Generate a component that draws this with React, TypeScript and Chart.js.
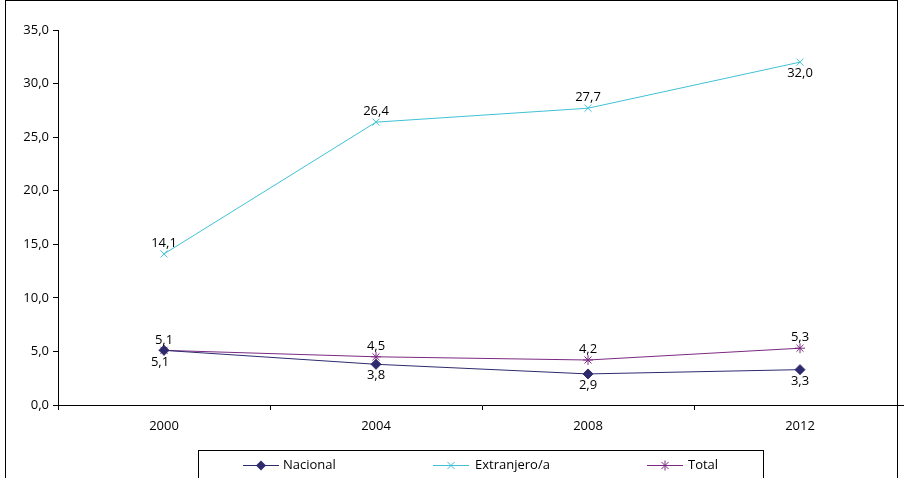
import { useEffect, useRef } from "react"
import { Chart, registerables } from "chart.js"

Chart.register(...registerables)

const years = ["2000", "2004", "2008", "2012"]
const nacional = [5.1, 3.8, 2.9, 3.3]
const extranjero = [14.1, 26.4, 27.7, 32.0]
const total = [5.1, 4.5, 4.2, 5.3]
const seriesNames = ["Nacional", "Extranjero/a", "Total"]
const colors = ["#2e2a6e", "#3fc1d6", "#7b2a82"]
const markers = ["rectRot", "crossRot", "star"]
// label position per point: 1 above, -1 below
const labelPos = [
  [-1, -1, -1, -1],
  [1, 1, 1, -1],
  [1, 1, 1, 1]
]

const fmt = (v: number) => v.toFixed(1).replace(".", ",")
const FONT = "13px 'Open Sans', sans-serif"

const App = () => {
  const chartRef = useRef<HTMLCanvasElement>(null)

  useEffect(() => {
    document.body.style.margin = "0"
    if (!chartRef.current) return
    const ctx = chartRef.current.getContext("2d")
    if (!ctx) return

    const extras = {
      id: "extras",
      afterDraw(chart: any) {
        const c = chart.ctx
        c.save()
        c.strokeStyle = "#000"
        c.lineWidth = 1
        c.strokeRect(5.5, 0.5, 892, 520)
        // point labels
        c.font = FONT
        c.fillStyle = "#000"
        c.textAlign = "center"
        chart.data.datasets.forEach((ds: any, i: number) => {
          const meta = chart.getDatasetMeta(i)
          meta.data.forEach((pt: any, j: number) => {
            const up = labelPos[i][j] > 0
            c.textBaseline = up ? "bottom" : "top"
            const dx = i === 0 && j === 0 ? -4 : 0
            c.fillText(fmt(ds.data[j]), pt.x + dx, up ? pt.y - 4 : pt.y + 5)
          })
        })
        // legend
        c.strokeRect(198.5, 450.5, 565, 40)
        const items = [
          [243, 283],
          [433, 475],
          [647, 688]
        ]
        items.forEach(([lx, tx], i) => {
          const y = 465.5
          c.strokeStyle = colors[i]
          c.lineWidth = 1
          c.beginPath()
          c.moveTo(lx, y)
          c.lineTo(lx + 36, y)
          c.stroke()
          drawMarker(c, markers[i], lx + 18, y, colors[i])
          c.fillStyle = "#000"
          c.textAlign = "left"
          c.textBaseline = "middle"
          c.fillText(seriesNames[i], tx, y)
        })
        c.restore()
      }
    }

    const chart = new Chart(ctx, {
      type: "line",
      data: {
        labels: years,
        datasets: [nacional, extranjero, total].map((d, i) => ({
          label: seriesNames[i],
          data: d,
          borderColor: colors[i],
          backgroundColor: colors[i],
          borderWidth: 1,
          pointStyle: markers[i] as any,
          pointRadius: 5,
          pointBorderWidth: 1,
          tension: 0
        }))
      },
      options: {
        animation: false,
        responsive: false,
        layout: { padding: { top: 30, right: 14, left: 0, bottom: 0 } },
        plugins: { legend: { display: false }, tooltip: { enabled: false } },
        scales: {
          x: {
            offset: true,
            grid: { drawOnChartArea: false, tickLength: 5, color: "#000", offset: true },
            border: { color: "#000" },
            ticks: { color: "#000", font: { family: "'Open Sans', sans-serif", size: 13 }, padding: 8 },
            afterFit: (s: any) => {
              s.height = 73
            }
          },
          y: {
            min: 0,
            max: 35,
            grid: { drawOnChartArea: false, tickLength: 5, color: "#000" },
            border: { color: "#000" },
            ticks: {
              stepSize: 5,
              color: "#000",
              font: { family: "'Open Sans', sans-serif", size: 13 },
              padding: 4,
              callback: (v: any) => fmt(Number(v))
            },
            afterFit: (s: any) => {
              s.width = 58
            }
          }
        }
      },
      plugins: [extras]
    })

    return () => {
      chart.destroy()
    }
  }, [])

  return (
    <div style={{ width: 904, height: 478, overflow: "hidden", background: "#fff" }}>
      <canvas ref={chartRef} width="920" height="478"></canvas>
    </div>
  )
}

function drawMarker(c: CanvasRenderingContext2D, style: string, x: number, y: number, color: string) {
  const r = 5
  c.save()
  c.strokeStyle = color
  c.fillStyle = color
  c.beginPath()
  if (style === "rectRot") {
    c.moveTo(x, y - r)
    c.lineTo(x + r, y)
    c.lineTo(x, y + r)
    c.lineTo(x - r, y)
    c.closePath()
    c.fill()
  } else {
    const d = r * 0.7071
    c.moveTo(x - d, y - d)
    c.lineTo(x + d, y + d)
    c.moveTo(x - d, y + d)
    c.lineTo(x + d, y - d)
    if (style === "star") {
      c.moveTo(x, y - r)
      c.lineTo(x, y + r)
      c.moveTo(x - r, y)
      c.lineTo(x + r, y)
    }
    c.stroke()
  }
  c.restore()
}

export default App
